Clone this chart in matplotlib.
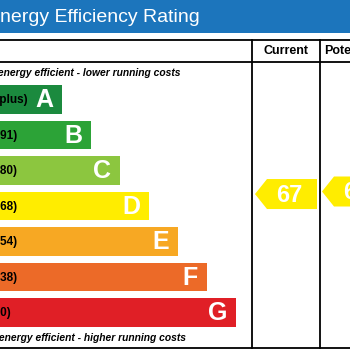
import matplotlib
matplotlib.use("Agg")
import matplotlib.pyplot as plt
from matplotlib.patches import Polygon, Rectangle

plt.rcParams['font.family'] = ['Liberation Sans', 'DejaVu Sans']

# rating bands, best to worst
bands = ['A', 'B', 'C', 'D', 'E', 'F', 'G']
ranges = ['(92 plus)', '(81-91)', '(69-80)', '(55-68)', '(39-54)', '(21-38)', '(1-20)']
lows = [92, 81, 69, 55, 39, 21, 1]
highs = [100, 91, 80, 68, 54, 38, 20]
colors = ['#1b8a3e', '#2ca337', '#8cc63f', '#ffed00', '#f7a823', '#ec6a28', '#e01f26']

current = 67
potential = 68

fig = plt.figure(figsize=(3.5, 3.5), dpi=100)
ax = fig.add_axes([0, 0, 1, 1])
ax.set_xlim(0, 350)
ax.set_ylim(350, 0)
ax.axis('off')

# header bar
ax.add_patch(Rectangle((0, 0), 350, 33, color='#1c75bc', lw=0))
ax.text(-13, 18, 'Energy Efficiency Rating', color='white', fontsize=14,
        va='center', ha='left')

# table grid
lw = 1.3
for y in (40, 62, 348):
    ax.plot([0, 350], [y, y], color='black', lw=lw)
for x in (252, 320):
    ax.plot([x, x], [40, 348], color='black', lw=lw)
ax.text(286, 51, 'Current', fontsize=9, fontweight='bold', ha='center', va='center')
ax.text(324, 51, 'Potential', fontsize=9, fontweight='bold', ha='left', va='center')

ax.text(-27, 73, 'Very energy efficient - lower running costs', fontsize=7.4,
        fontweight='bold', style='italic', ha='left', va='center')
ax.text(-21, 338, 'Not energy efficient - higher running costs', fontsize=7.4,
        fontweight='bold', style='italic', ha='left', va='center')

# bands
top0, pitch, bh = 85, 35.5, 28.5
tops = [top0 + pitch * i for i in range(len(bands))]
rights = [62 + 29 * i for i in range(len(bands))]
ax.barh([t + bh / 2 for t in tops], [r + 40 for r in rights], height=bh,
        left=-40, color=colors, lw=0)
for band, rng, t, r in zip(bands, ranges, tops, rights):
    ax.text(-21, t + bh / 2 + 1, rng, fontsize=8.5, fontweight='bold',
            ha='left', va='center')
    ax.text(r - 9, t + bh / 2 + 1, band, fontsize=18, fontweight='bold',
            color='white', ha='right', va='center')


def rating_y(v):
    for t, lo, hi in zip(tops, lows, highs):
        if lo <= v <= hi:
            return t + (hi - v) / (hi - lo + 1) * pitch


def band_color(v):
    for c, lo, hi in zip(colors, lows, highs):
        if lo <= v <= hi:
            return c


def arrow(x0, v):
    yc = rating_y(v)
    h = 30
    pts = [(x0, yc), (x0 + 12, yc - h / 2), (x0 + 62, yc - h / 2),
           (x0 + 62, yc + h / 2), (x0 + 12, yc + h / 2)]
    ax.add_patch(Polygon(pts, closed=True, color=band_color(v), lw=0))
    ax.text(x0 + 34, yc + 1, str(v), fontsize=17, fontweight='bold',
            color='white', ha='center', va='center')


arrow(255, current)
arrow(322, potential)

fig.savefig('out.png', dpi=100)
